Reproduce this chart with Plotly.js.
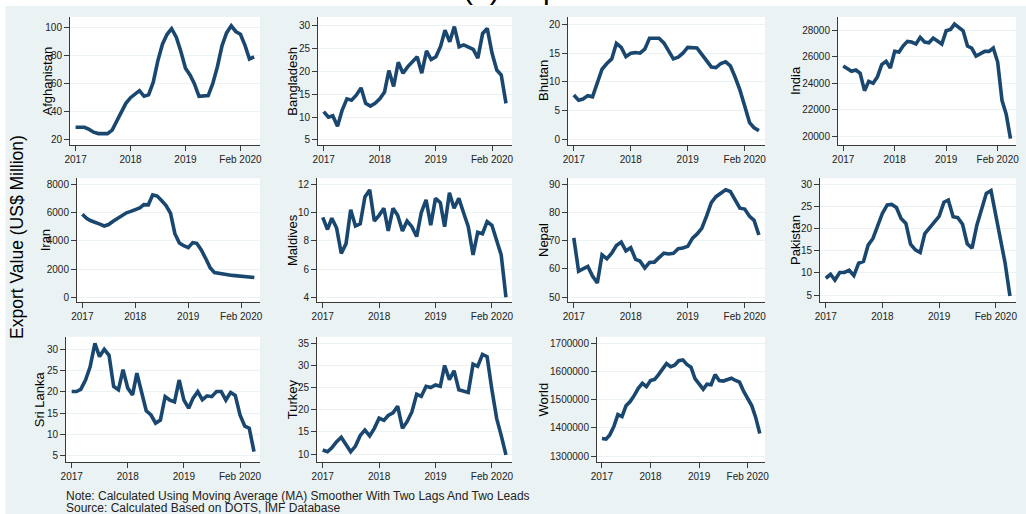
<!DOCTYPE html>
<html>
<head>
<meta charset="utf-8">
<script src="https://cdn.plot.ly/plotly-3.0.1.min.js"></script>
<style>
  html, body { margin: 0; padding: 0; background: #ffffff; }
  #chart { width: 1026px; height: 514px; }
</style>
</head>
<body>
<div id="chart"></div>
<script>
// ---------------- DATA ----------------
const months = [
  '2017-01','2017-02','2017-03','2017-04','2017-05','2017-06','2017-07','2017-08','2017-09','2017-10','2017-11','2017-12',
  '2018-01','2018-02','2018-03','2018-04','2018-05','2018-06','2018-07','2018-08','2018-09','2018-10','2018-11','2018-12',
  '2019-01','2019-02','2019-03','2019-04','2019-05','2019-06','2019-07','2019-08','2019-09','2019-10','2019-11','2019-12',
  '2020-01','2020-02','2020-03','2020-04'
];
const xTickVals = ['2017-01-01', '2018-01-01', '2019-01-01', '2020-01-01'];
const xTickText = ['2017', '2018', '2019', 'Feb 2020'];

const countries = ['Afghanistan', 'Bangladesh', 'Bhutan', 'India', 'Iran', 'Maldives',
                   'Nepal', 'Pakistan', 'Sri Lanka', 'Turkey', 'World'];

const afghanistan = [29,29,29,27.5,25.5,24.5,24.5,24.5,27,33, 40,46,50,53,55,51,52,61,76,88,
                     95,99,93,83,71,66,60,51,51,51.5, 60,72,87,96,101,97,95,87,77.5,79];
const bangladesh = [11.2,10.0,10.3,8.0,11.5,14.0,13.7,14.8,16.4,13.0, 12.4,13.0,14.0,15.5,20.2,16.7,22.0,19.6,21.0,22.1,
                    23.2,19.6,24.5,22.6,23.2,25.5,29.0,26.5,29.8,25.4, 25.8,25.3,24.8,22.9,28.3,29.4,24.0,20.3,19.2,13.0];
const bhutan = [7.7,6.8,7.0,7.6,7.4,9.8,12.2,13.2,14.0,16.7, 16.0,14.4,15.0,15.1,15.0,15.7,17.6,17.6,17.6,16.8,
                15.4,14.0,14.3,15.0,16.0,16.0,15.9,14.8,13.8,12.6, 12.5,13.2,13.5,12.8,10.8,8.6,5.8,2.9,2.0,1.5];
const india = [25300,25100,24900,25000,24750,23450,24150,24000,24500,25400, 25650,25150,26400,26350,26800,27150,27100,26950,27450,27100,
               27050,27400,27150,26950,27950,28050,28450,28200,27950,26800, 26650,26050,26200,26400,26400,26650,25600,22700,21700,19850];
const iran = [5880,5580,5420,5330,5180,5050,5150,5380,5580,5760, 5980,6080,6200,6330,6560,6550,7250,7170,6850,6500,
              5950,4500,3850,3650,3520,3870,3820,3350,2760,2100, 1750,1680,1650,1600,1550,1520,1500,1500,1480,1400];
const maldives = [9.65,8.8,9.6,8.9,7.1,7.8,10.2,9.05,9.2,11.1, 11.6,9.4,9.8,10.3,8.7,10.3,9.8,8.7,9.4,9.0,
                  8.3,10.0,10.9,9.1,11.0,10.7,9.0,11.4,10.3,11.0, 10.0,9.0,7.0,8.6,8.5,9.35,9.1,8.0,7.0,4.0];
const nepal = [71.0,59.2,60.0,60.9,57.5,55.0,65.0,63.6,65.6,68.3, 69.5,66.4,67.5,63.4,62.8,60.3,62.3,62.4,64.0,65.6,
               65.3,65.5,67.2,67.4,68.0,70.9,72.3,74.4,78.6,83.5, 85.6,86.8,88.0,87.4,84.5,81.5,81.2,78.6,77.2,72.0];
const pakistan = [8.8,9.7,8.4,10.1,10.1,10.6,9.4,12.2,12.6,16.3, 17.8,20.5,23.5,25.4,25.5,24.8,22.3,21.2,16.5,15.2,
                  14.6,18.9,20.1,21.5,22.8,26.0,26.5,22.7,22.5,21.0, 16.6,15.6,20.8,24.6,28.0,28.6,23.0,17.5,12.2,4.8];
const sriLanka = [20.1,20.1,20.6,22.8,25.9,31.4,28.3,30.0,28.6,21.3, 20.5,25.2,20.9,19.3,24.4,20.0,15.6,14.6,12.7,13.4,
                  18.9,18.1,17.7,22.8,18.1,16.2,18.5,20.1,18.2,19.1, 18.9,20.1,20.1,18.1,19.9,19.2,14.6,12.0,11.5,6.0];
const turkey = [10.9,10.5,11.4,12.8,13.8,12.2,10.5,11.8,14.2,15.4, 14.1,15.8,18.1,17.6,18.7,19.3,20.8,15.8,17.3,19.5,
                23.5,23.0,25.3,25.0,25.6,25.3,30.0,26.8,28.8,24.5, 24.1,23.9,30.3,29.8,32.5,32.0,24.5,18.0,14.2,9.8];
const world = [1362000,1360000,1375000,1405000,1447000,1440000,1478000,1493000,1515000,1540000,
               1558000,1546000,1568000,1572000,1588000,1610000,1628000,1617000,1622000,1638000,
               1641000,1625000,1615000,1575000,1558000,1537000,1555000,1553000,1589000,1568000,
               1566000,1570000,1576000,1568000,1562000,1530000,1507000,1478000,1437000,1380000];

const seriesValues = [afghanistan, bangladesh, bhutan, india, iran, maldives, nepal, pakistan, sriLanka, turkey, world];

const yTickStart = [20, 5, 0, 20000, 0, 4, 50, 5, 5, 10, 1300000];
const yTickStep  = [20, 5, 5, 2000, 2000, 2, 10, 5, 5, 5, 100000];

const titleText = '(a) Exports';
const yTitleText = 'Export Value (US$ Million)';
const noteText = 'Note: Calculated Using Moving Average (MA) Smoother With Two Lags And Two Leads';
const sourceText = 'Source: Calculated Based on DOTS, IMF Database';

// ---------------- LAYOUT GEOMETRY (pixels) ----------------
const W = 1026, H = 514;
const rowsPx = [[17, 145], [178.3, 301.7], [336.7, 461.7]];
const panelGeom = [
  {x: [70, 260],   row: 0, yr: [16.4, 107.3],       tx: 46.5},
  {x: [318, 512],  row: 0, yr: [3.9, 31.9],         tx: 291.7},
  {x: [568, 765],  row: 0, yr: [-1.0, 21.3],        tx: 543},
  {x: [838, 1016], row: 0, yr: [19370, 28980],      tx: 795},
  {x: [77, 260],   row: 1, yr: [-311, 8425],        tx: 45.3},
  {x: [317, 512],  row: 1, yr: [3.69, 12.42],       tx: 292},
  {x: [568, 765],  row: 1, yr: [48.4, 92.1],        tx: 543},
  {x: [820, 1016], row: 1, yr: [3.5, 31.4],         tx: 795},
  {x: [66, 260],   row: 2, yr: [3.66, 32.95],       tx: 39},
  {x: [317, 512],  row: 2, yr: [8.26, 36.5],        tx: 292},
  {x: [597, 765],  row: 2, yr: [1279800, 1723400],  tx: 543.3}
];

const FONT = 'Liberation Sans, Arial, sans-serif';
const LINE_COLOR = '#1A476F';
const AXIS_COLOR = '#3a3a3a';
const REGION_BG = '#EAF2F3';

const px = v => v / W;
const py = v => 1 - v / H;

const traces = [];
const layout = {
  width: W, height: H,
  margin: {l: 0, r: 0, t: 0, b: 0},
  paper_bgcolor: REGION_BG,
  plot_bgcolor: '#ffffff',
  showlegend: false,
  font: {family: FONT, color: '#111'},
  annotations: [],
  shapes: [
    {type: 'rect', xref: 'paper', yref: 'paper', x0: 0, x1: 1, y0: py(6), y1: 1.01,
     fillcolor: '#ffffff', line: {width: 0}, layer: 'above'},
    {type: 'rect', xref: 'paper', yref: 'paper', x0: -0.01, x1: px(5.5), y0: -0.01, y1: 1.01,
     fillcolor: '#ffffff', line: {width: 0}, layer: 'above'}
  ]
};

countries.forEach((name, i) => {
  const g = panelGeom[i];
  const k = i === 0 ? '' : String(i + 1);
  const rp = rowsPx[g.row];
  traces.push({
    x: months, y: seriesValues[i],
    xaxis: 'x' + k, yaxis: 'y' + k,
    type: 'scatter', mode: 'lines',
    line: {color: LINE_COLOR, width: 3.6, shape: 'linear'},
    hoverinfo: 'skip'
  });
  layout['xaxis' + k] = {
    domain: [px(g.x[0]), px(g.x[1])],
    anchor: 'y' + k,
    type: 'date',
    range: ['2016-11-25', '2020-05-10'],
    tickmode: 'array', tickvals: xTickVals, ticktext: xTickText,
    showline: true, linecolor: AXIS_COLOR, linewidth: 1,
    ticks: 'outside', ticklen: 5, tickcolor: AXIS_COLOR, tickwidth: 1,
    showgrid: false, zeroline: false,
    tickfont: {family: FONT, size: 10, color: '#222'},
    fixedrange: true
  };
  layout['yaxis' + k] = {
    domain: [py(rp[1]), py(rp[0])],
    anchor: 'x' + k,
    range: g.yr,
    tickmode: 'linear', tick0: yTickStart[i], dtick: yTickStep[i],
    tickformat: 'd',
    showline: true, linecolor: AXIS_COLOR, linewidth: 1,
    ticks: 'outside', ticklen: 5, tickcolor: AXIS_COLOR, tickwidth: 1,
    showgrid: true, gridcolor: REGION_BG, gridwidth: 1,
    zeroline: false,
    tickfont: {family: FONT, size: 10, color: '#222'},
    fixedrange: true
  };
  layout.annotations.push({
    text: name, xref: 'paper', yref: 'paper',
    x: px(g.tx), y: py((rp[0] + rp[1]) / 2),
    xanchor: 'center', yanchor: 'middle', textangle: -90,
    showarrow: false, font: {family: FONT, size: 13, color: '#000'}
  });
});

// overall y title
layout.annotations.push({
  text: yTitleText, xref: 'paper', yref: 'paper',
  x: px(17), y: py(237), xanchor: 'center', yanchor: 'middle', textangle: -90,
  showarrow: false, font: {family: FONT, size: 17.5, color: '#000'}
});
// notes
layout.annotations.push({
  text: noteText, xref: 'paper', yref: 'paper',
  x: px(64), y: py(495.5), xanchor: 'left', yanchor: 'middle',
  showarrow: false, font: {family: FONT, size: 12, color: '#222'}
});
layout.annotations.push({
  text: sourceText, xref: 'paper', yref: 'paper',
  x: px(64), y: py(507.5), xanchor: 'left', yanchor: 'middle',
  showarrow: false, font: {family: FONT, size: 12, color: '#222'}
});
// main title (mostly above the visible area, as in the reference)
layout.annotations.push({
  text: titleText, xref: 'paper', yref: 'paper',
  x: px(461), y: 1, xanchor: 'left', yanchor: 'bottom', yshift: -7,
  showarrow: false, font: {family: FONT, size: 30, color: '#000'}
});

Plotly.newPlot('chart', traces, layout, {staticPlot: true, displayModeBar: false});
</script>
</body>
</html>
